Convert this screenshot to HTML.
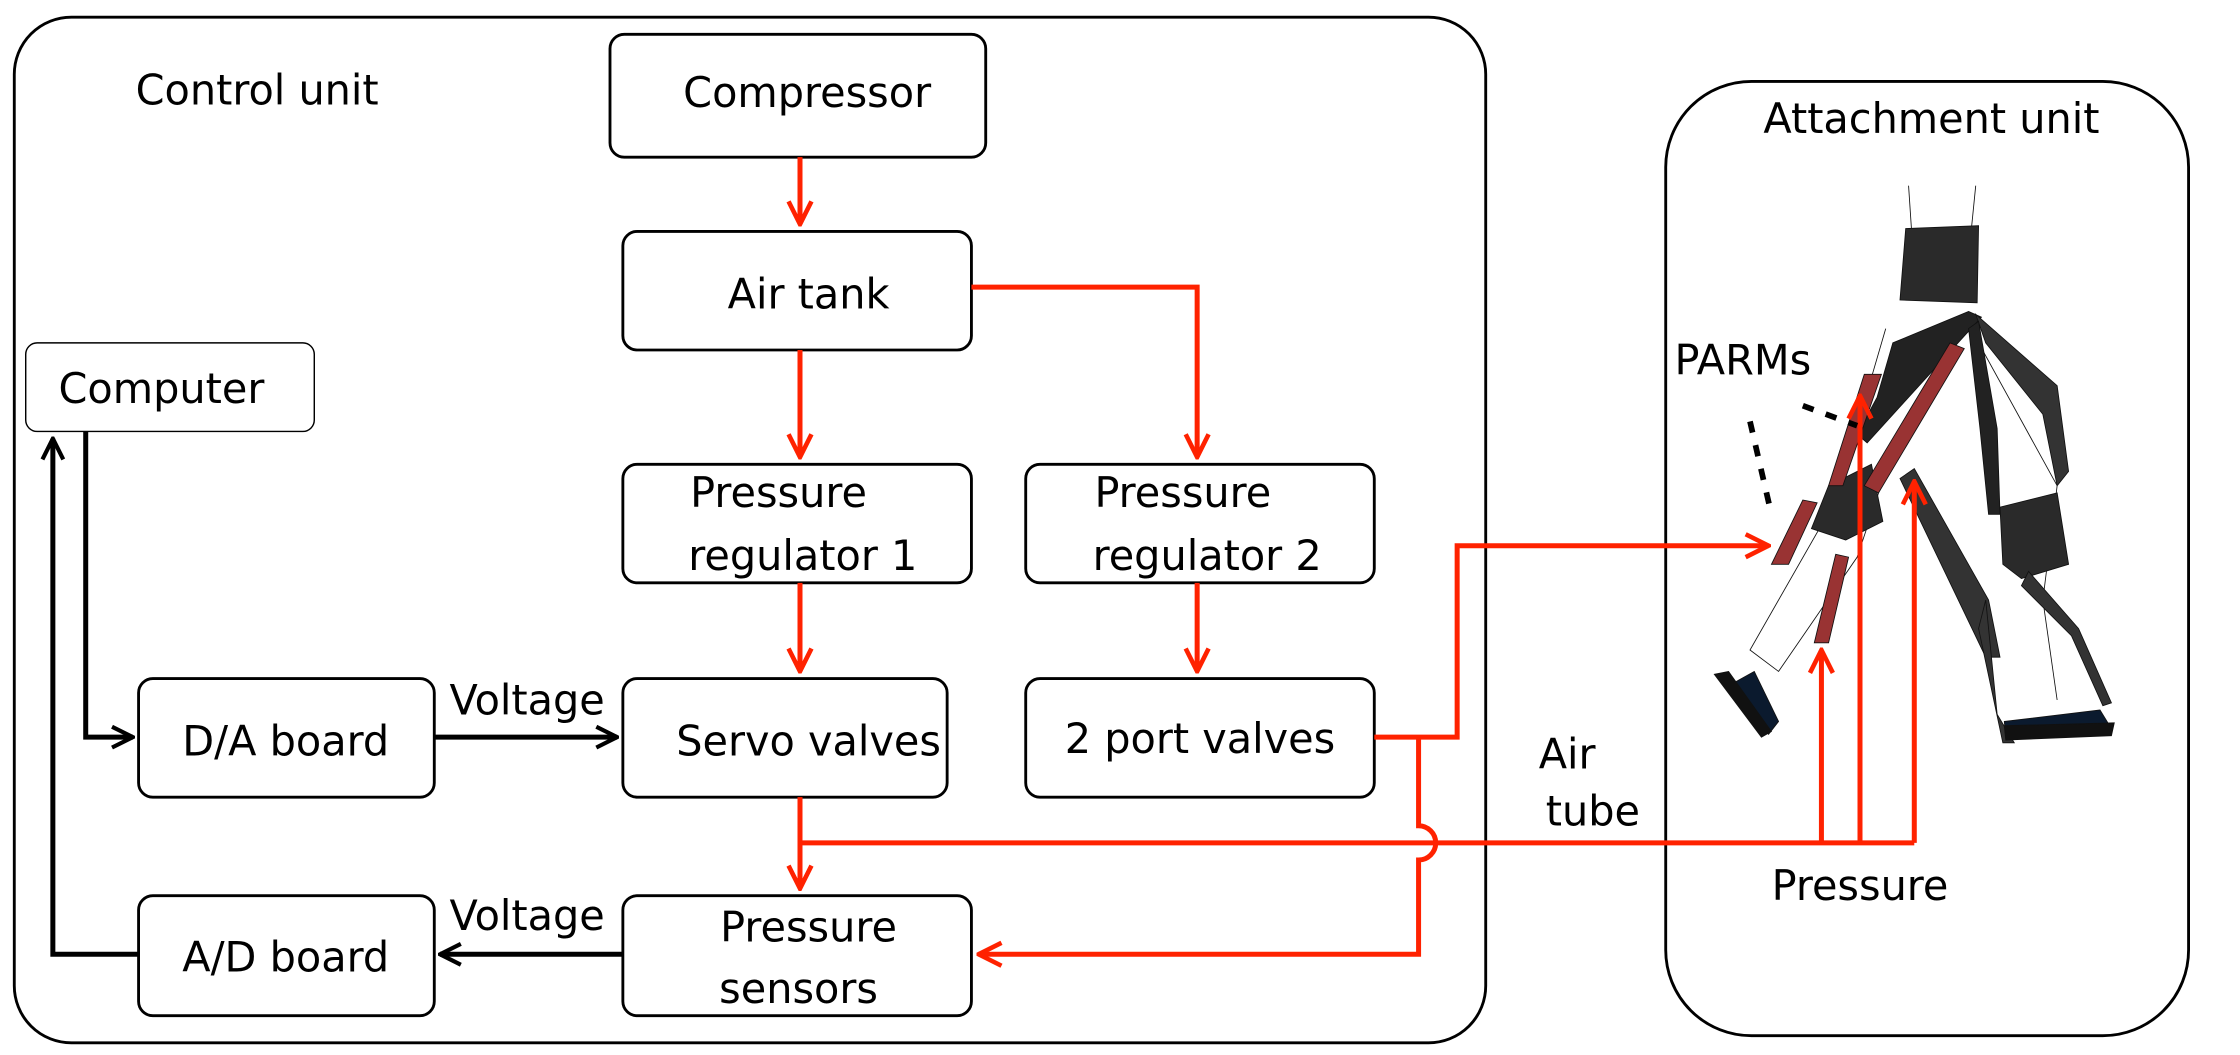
<!DOCTYPE html>
<html><head><style>
html,body{margin:0;padding:0;background:#fff;}
svg{display:block;}
text{font-family:"DejaVu Sans","Liberation Sans",sans-serif;font-size:29px;fill:#000;}
</style></head><body>
<svg width="2240" height="1055" viewBox="0 0 1568 738.5" xmlns="http://www.w3.org/2000/svg">
<defs>
<marker id="ar" viewBox="0 0 12 12" refX="11" refY="6" markerWidth="5.5" markerHeight="5.5" orient="auto" markerUnits="strokeWidth"><path d="M1,1 L11,6 L1,11" fill="none" stroke="#ff2200" stroke-width="2"/></marker>
<marker id="ab" viewBox="0 0 12 12" refX="11" refY="6" markerWidth="5" markerHeight="5" orient="auto" markerUnits="strokeWidth"><path d="M1,1 L11,6 L1,11" fill="none" stroke="#000" stroke-width="2"/></marker>
</defs>
<g fill="none" stroke="#000" stroke-width="2">
<rect x="10" y="12" width="1030" height="718" rx="40"/>
<rect x="1166" y="57" width="366" height="668" rx="60"/>
<rect x="427" y="24" width="263" height="86" rx="10"/>
<rect x="436" y="162" width="244" height="83" rx="10"/>
<rect x="436" y="325" width="244" height="83" rx="10"/>
<rect x="718" y="325" width="244" height="83" rx="10"/>
<rect x="436" y="475" width="227" height="83" rx="10"/>
<rect x="718" y="475" width="244" height="83" rx="10"/>
<rect x="436" y="627" width="244" height="84" rx="10"/>
<rect x="97" y="475" width="207" height="83" rx="10"/>
<rect x="97" y="627" width="207" height="84" rx="10"/>
<rect x="18" y="240" width="202" height="62" rx="8" stroke-width="1"/>
</g>
<!-- leg drawing -->
<g stroke="#111" stroke-width="0.6" fill="none">
<path d="M1336,130 L1338,160 M1383,130 L1380,160"/>
<path d="M1320,230 L1285,350 L1225,455 L1245,470 L1300,390 L1330,300"/>
<path d="M1385,240 L1440,340 L1430,420 L1440,490"/>
</g>
<g stroke="#111" stroke-width="0.6">
<path d="M1334,160 L1385,158 L1384,212 L1330,210 Z" fill="#2a2a2a"/>
<path d="M1314,278 L1325,240 L1378,218 L1387,222 L1307,310 L1300,304 Z" fill="#222"/>
<path d="M1383,220 L1440,270 L1448,330 L1440,340 L1430,290 L1390,240 Z" fill="#333"/>
<path d="M1385,225 L1398,300 L1400,360 L1392,360 L1386,300 L1378,230 Z" fill="#222"/>
<path d="M1340,328 L1392,420 L1400,460 L1390,460 L1330,335 Z" fill="#333"/>
<path d="M1390,420 L1398,500 L1410,520 L1402,520 L1385,440 Z" fill="#333"/>
<path d="M1400,355 L1440,345 L1448,395 L1415,405 L1402,395 Z" fill="#2a2a2a"/>
<path d="M1420,400 L1455,440 L1478,492 L1472,494 L1450,445 L1415,410 Z" fill="#333"/>
<path d="M1403,505 L1470,497 L1478,510 L1404,515 Z" fill="#0b1a2e"/>
<path d="M1403,508 L1480,506 L1478,515 L1404,518 Z" fill="#111"/>
<path d="M1280,340 L1310,325 L1318,365 L1292,378 L1268,370 Z" fill="#2a2a2a"/>
<path d="M1210,480 L1228,470 L1245,505 L1238,514 Z" fill="#0b1a2e"/>
<path d="M1200,472 L1210,470 L1240,512 L1233,516 Z" fill="#111"/>
<path d="M1305,262 L1317,262 L1290,340 L1280,340 Z" fill="#993333"/>
<path d="M1365,240 L1375,244 L1315,345 L1305,340 Z" fill="#993333"/>
<path d="M1262,350 L1272,352 L1252,395 L1240,395 Z" fill="#993333"/>
<path d="M1285,388 L1294,390 L1280,450 L1270,450 Z" fill="#993333"/>
</g>
<!-- red connectors -->
<g fill="none" stroke="#ff2200" stroke-width="3.5">
<path d="M560,110 V157" marker-end="url(#ar)"/>
<path d="M680,201 H838 V320" marker-end="url(#ar)"/>
<path d="M560,245 V320" marker-end="url(#ar)"/>
<path d="M560,408 V470" marker-end="url(#ar)"/>
<path d="M838,408 V470" marker-end="url(#ar)"/>
<path d="M560,558 V622" marker-end="url(#ar)"/>
<path d="M560,590 H1340"/>
<path d="M962,516 H1020 V382 H1238" marker-end="url(#ar)"/>
<path d="M993,516 V578 A12,12 0 0 1 993,602 V668 H685" marker-end="url(#ar)"/>
<path d="M1275,590 V455" marker-end="url(#ar)"/>
<path d="M1302,590 V277" marker-end="url(#ar)"/>
<path d="M1340,590 V337" marker-end="url(#ar)"/>
</g>
<!-- black connectors -->
<g fill="none" stroke="#000" stroke-width="3.5">
<path d="M60,302 V516 H93" marker-end="url(#ab)"/>
<path d="M97,668 H37 V307" marker-end="url(#ab)"/>
<path d="M304,516 H432" marker-end="url(#ab)"/>
<path d="M436,668 H308" marker-end="url(#ab)"/>
<path d="M1225,295 L1240,360" stroke-dasharray="8,9" stroke-width="4"/>
<path d="M1262,284 L1300,298" stroke-dasharray="8,9" stroke-width="4"/>
</g>
<g text-anchor="middle">
<text x="180" y="73">Control unit</text>
<text x="565" y="75">Compressor</text>
<text x="566" y="216">Air tank</text>
<text x="545" y="355">Pressure</text>
<text x="562" y="399">regulator 1</text>
<text x="828" y="355">Pressure</text>
<text x="845" y="399">regulator 2</text>
<text x="566" y="529">Servo valves</text>
<text x="840" y="527">2 port valves</text>
<text x="566" y="659">Pressure</text>
<text x="559" y="702">sensors</text>
<text x="200" y="529">D/A board</text>
<text x="200" y="680">A/D board</text>
<text x="113" y="282">Computer</text>
<text x="369" y="500">Voltage</text>
<text x="369" y="651">Voltage</text>
<text x="1352" y="93">Attachment unit</text>
<text x="1220" y="262">PARMs</text>
<text x="1097" y="538">Air</text>
<text x="1115" y="578">tube</text>
<text x="1302" y="630">Pressure</text>
</g>
</svg>
</body></html>
